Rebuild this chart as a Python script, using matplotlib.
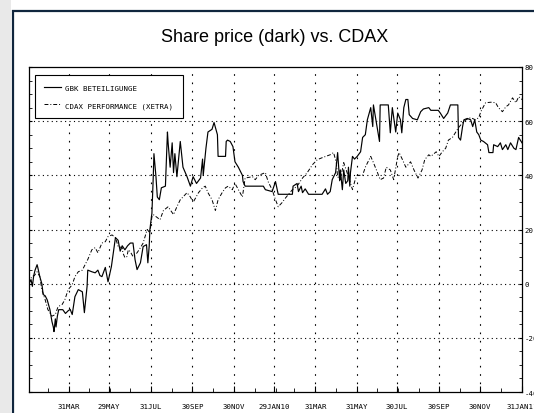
import numpy as np
import pandas as pd
import matplotlib
matplotlib.use('Agg')
import matplotlib.pyplot as plt
from matplotlib.patches import Rectangle

# days since 31 Jan 2009 and % change
gbk_days = [0, 3, 5, 7, 9, 12, 13, 16, 19, 21, 24, 27, 31, 34, 36, 37, 39, 40, 42, 44,
            50, 54, 58, 61, 64, 68, 73, 79, 81, 82, 84, 86, 87, 93, 98, 102, 105, 108, 113, 117,
            122, 125, 128, 132, 135, 138, 142, 146, 150, 154, 157, 160, 165, 169, 174, 176, 178, 179, 182, 184,
            185, 188, 190, 193, 196, 202, 205, 206, 209, 212, 214, 216, 219, 224, 228, 234, 239, 243, 248, 254,
            257, 258, 262, 265, 271, 274, 279, 280, 291, 292, 294, 298, 302, 305, 310, 316, 317, 320, 347, 350,
            360, 365, 369, 390, 391, 397, 399, 403, 405, 409, 414, 434, 439, 442, 446, 449, 454, 456, 457, 460,
            461, 464, 466, 469, 472, 473, 475, 476, 479, 482, 486, 491, 494, 498, 501, 506, 509, 510, 516, 519,
            520, 532, 535, 538, 540, 543, 546, 550, 552, 555, 558, 561, 563, 568, 575, 580, 584, 592, 595, 606,
            609, 614, 620, 624, 635, 636, 639, 642, 644, 649, 654, 657, 660, 663, 666, 669, 673, 679, 681, 687,
            688, 694, 698, 701, 706, 709, 713, 718, 721, 725, 730]
gbk_vals = [0, 1.5, -1, 3, 5, 7, 6, 2.6, 0, -4, -4.5, -6, -9.6, -14, -16, -17.7, -13, -16, -12, -9.6,
            -9.6, -11, -10, -9.5, -11.4, -4.8, -2.2, -3, -8, -10.7, -6, -1, 5, 4.4, 4, 5, 3, 2.6, 6, 0.7,
            6.3, 11.8, 17, 16, 12, 14, 12.5, 14, 15, 15, 8.9, 5.2, 7.7, 13.7, 14.4, 7.7, 14, 20, 26, 39.5,
            48, 39.5, 32, 31, 35.4, 36, 56, 52, 43, 52, 41, 48, 39.5, 52.5, 43, 39.5, 36, 39.5, 37, 39,
            46, 40, 50, 56, 57, 59.5, 55, 47, 47, 52.5, 53, 52.5, 50.6, 45, 43, 40, 37.7, 36, 36, 34.7,
            34, 37.7, 33, 33, 36, 37, 34, 36, 33.6, 35, 33, 33, 35, 33, 34, 38.4, 41, 45.8, 48.4, 38,
            42, 34.7, 42, 37, 38, 43, 36, 41, 47, 46, 47, 48.7, 54, 55, 60.5, 65, 58, 66, 57, 52.5,
            66, 66, 55.7, 65, 61.5, 56, 63, 60.5, 55.7, 65, 68, 68, 62.4, 61, 60.5, 63.5, 64.5, 65, 64, 64,
            63, 61, 63, 66, 66, 54, 53, 58, 60.5, 61, 60.5, 58, 60.5, 56, 55, 53, 52.5, 51.3, 48.4, 48.4,
            51.3, 50.6, 52, 49.5, 51.3, 49.5, 52, 50, 49.5, 54, 52]

cdax_days = [0, 4, 8, 12, 16, 19, 24, 28, 34, 39, 43, 49, 53, 58, 64, 68, 73, 79, 83, 87,
             93, 98, 102, 108, 113, 117, 123, 128, 132, 138, 139, 142, 145, 147, 150, 154, 160, 165, 169, 175,
             179, 182, 184, 190, 194, 199, 206, 214, 219, 224, 228, 234, 239, 243, 251, 257, 261, 265, 271, 276,
             280, 286, 291, 295, 301, 305, 310, 316, 320, 331, 335, 340, 350, 354, 360, 365, 369, 375, 380, 390,
             397, 405, 412, 420, 427, 434, 446, 451, 455, 457, 461, 466, 473, 479, 483, 486, 494, 498, 506, 510,
             516, 520, 525, 529, 535, 540, 546, 548, 553, 558, 565, 570, 576, 582, 586, 592, 595, 603, 607, 612,
             617, 621, 627, 632, 636, 642, 647, 654, 661, 666, 669, 676, 684, 691, 695, 701, 706, 710, 716, 721,
             725, 730]
cdax_vals = [0, 2.6, 3, 4.4, 2.6, -2.2, -6, -9.6, -12, -11.4, -8.5, -7.7, -6, -2.2, -0.4, 2.6, 4.4, 5, 7, 8.9,
             12.5, 13.3, 11.4, 15, 15.5, 17.4, 18, 17, 13.7, 13.3, 11.4, 9.6, 10, 12.5, 11.8, 10, 11.4, 13.3, 15, 20,
             18.8, 24.7, 25.5, 24.4, 23.6, 27, 28.4, 25.5, 28.4, 31, 32, 33.6, 32, 30, 33.6, 35.4, 36, 33.6, 31, 27,
             31, 33.6, 35.4, 36, 34.7, 37, 34.7, 32, 39, 39.5, 38.4, 40, 41, 37.7, 34.7, 31, 28.4, 30, 31.7, 34.7,
             36, 39, 41, 44, 45.8, 46.5, 47.6, 48.4, 44.7, 39.5, 38.4, 44.7, 39.5, 34.7, 38.4, 40, 40, 43, 47, 44.7,
             41, 38.4, 39, 43, 42, 38.4, 47, 48.4, 45.8, 43, 45, 42, 39, 42, 45.8, 47.6, 47, 48.7, 47, 48.7,
             50, 53, 54, 56, 57.6, 59.4, 60.5, 61.3, 60.5, 61.3, 63.5, 66.8, 67, 66.8, 65, 63.5, 65.3, 66, 68.6, 66.8,
             69, 68]

start = pd.Timestamp('2009-01-31')
tick_dates = ['2009-03-31', '2009-05-29', '2009-07-31', '2009-09-30', '2009-11-30', '2010-01-29',
              '2010-03-31', '2010-05-31', '2010-07-30', '2010-09-30', '2010-11-30', '2011-01-31']
tick_labels = ['31MAR', '29MAY', '31JUL', '30SEP', '30NOV', '29JAN10',
               '31MAR', '31MAY', '30JUL', '30SEP', '30NOV', '31JAN11']
y_ticks = [80, 60, 40, 20, 0, -20, -40]

mono = 'DejaVu Sans Mono'

fig = plt.figure(figsize=(5.34, 4.14), dpi=100)
fig.patch.set_facecolor('white')

# grey strip + dark frame of the page
fig.patches.append(Rectangle((0, 0), 11 / 534, 1, transform=fig.transFigure,
                             facecolor='#e9e9e9', edgecolor='none', zorder=0))
fig.patches.append(Rectangle((12.5 / 534, -0.1), 1.2, 1.1 - 12.5 / 414, transform=fig.transFigure,
                             facecolor='none', edgecolor='#10263d', lw=1.6, zorder=1))

ax = fig.add_axes([29 / 534, 1 - 393 / 414, 493 / 534, 325 / 414])

gx = start + pd.to_timedelta(gbk_days, unit='D')
cx = start + pd.to_timedelta(cdax_days, unit='D')
ax.plot(gx, gbk_vals, color='black', lw=0.85, label='GBK BETEILIGUNGE')
ax.plot(cx, cdax_vals, color='black', lw=0.7, linestyle=(0, (4, 2, 1, 2)),
        label='CDAX PERFORMANCE (XETRA)')

ax.set_xlim(start, pd.Timestamp('2011-01-31'))
ax.set_ylim(-40, 80)

ax.set_xticks(pd.to_datetime(tick_dates))
ax.set_xticklabels(tick_labels, fontsize=5.3, family=mono)
ax.set_xticks(pd.date_range('2009-02-28', '2011-01-31', freq='ME'), minor=True)
ax.set_yticks(y_ticks)
ax.set_yticklabels([str(v) for v in y_ticks], fontsize=5.3, family=mono)
ax.set_yticks(np.arange(-40, 81, 5), minor=True)

ax.tick_params(axis='both', which='both', direction='in', colors='black')
ax.tick_params(axis='x', which='major', length=4, pad=8)
ax.tick_params(axis='x', which='minor', length=3)
ax.tick_params(axis='y', which='both', left=True, right=True, labelleft=False, labelright=True,
               length=2.5, pad=2)

for v in [60, 40, 20, 0, -20]:
    ax.axhline(v, color='black', lw=0.8, linestyle=(0, (1, 3)), zorder=0)
for d in pd.to_datetime(tick_dates[:-1]):
    ax.axvline(d, color='black', lw=0.8, linestyle=(0, (1.5, 6)), zorder=0)

for s in ax.spines.values():
    s.set_linewidth(0.9)

leg = ax.legend(loc='upper left', bbox_to_anchor=(0.012, 0.975), borderaxespad=0,
                prop={'family': mono, 'size': 5.3}, frameon=True, fancybox=False,
                edgecolor='black', framealpha=1, borderpad=1.3, labelspacing=1.5,
                handlelength=2.3, handletextpad=0.5)
leg.get_frame().set_linewidth(0.8)

fig.text(0.515, 1 - 37 / 414, 'Share price (dark) vs. CDAX', ha='center', va='center',
         fontsize=13, family='Liberation Sans')

fig.savefig('out.png', dpi=100)
